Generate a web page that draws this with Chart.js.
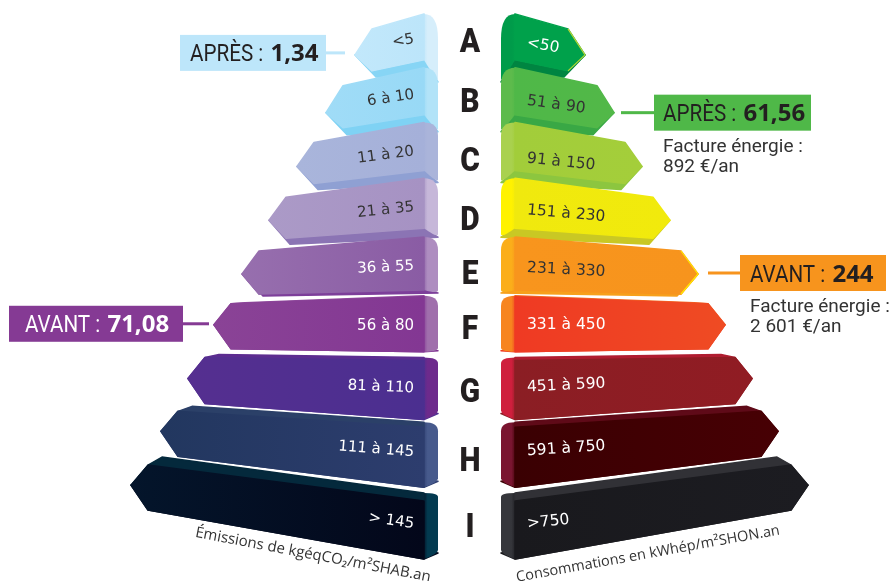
<!DOCTYPE html>
<html lang="fr">
<head>
<meta charset="utf-8">
<title>Étiquette énergie</title>
<style>
  html, body { margin: 0; padding: 0; background: #fff; }
  canvas { display: block; }
</style>
<script src="https://cdn.jsdelivr.net/npm/chart.js@4/dist/chart.umd.min.js"></script>
</head>
<body>
<canvas id="chart" width="891" height="581"></canvas>
<script>
// --- Data ---
const classes = ['A', 'B', 'C', 'D', 'E', 'F', 'G', 'H', 'I'];
const ghgLabels = ['<5', '6 à 10', '11 à 20', '21 à 35', '36 à 55', '56 à 80', '81 à 110', '111 à 145', '> 145'];
const energyLabels = ['<50', '51 à 90', '91 à 150', '151 à 230', '231 à 330', '331 à 450', '451 à 590', '591 à 750', '>750'];
// bar lengths
const ghgLength = [83, 112, 141, 169, 196, 224, 250, 277, 307];
const energyLength = [84, 113, 141, 169, 197, 224, 251, 277, 307];

// --- Colours: [outer end, inner end] of the front face ---
const ghgFront = [['#c2e8fb', '#bce5fa'], ['#a0dcf7', '#98d9f6'], ['#a9b5db', '#a5b0d9'], ['#ab9ac7', '#a692c3'], ['#976fae', '#8a5ca4'], ['#8a4396', '#833793'], ['#552f90', '#4b2f90'], ['#22375f', '#2d3d6e'], ['#04152b', '#03071a']];
const ghgSide = ['#d6eefb', '#b2e3f8', '#aab4da', '#c6b7d9', '#ae8dc0', '#a06fac', '#6d2a8c', '#475a8c', '#033a50'];
const ghgUnder = ['#87d5f5', '#7fd2f4', '#8fa0d3', '#8b74b4', '#7d3f9a', '#7f3391', '#4b2f90', '#2d3d6e', '#03071a'];
const ghgTop = ['#bce5fa', '#98d9f6', '#a5b0d9', '#a692c3', '#8a5ca4', '#8f4a9c', '#5c2d90', '#2b4068', '#04293c'];
const energyFront = [['#00a14b', '#00a14b'], ['#52b848', '#4fb848'], ['#a4ce3a', '#a2cd3a'], ['#f1ea0c', '#f0e90e'], ['#f7941d', '#f8951d'], ['#ef4b23', '#ef3a23'], ['#901c23', '#8b1e24'], ['#470004', '#3a0002'], ['#1c1c21', '#19191d']];
const energySide = ['#009b4a', '#5dbb4c', '#a9d14e', '#fff200', '#fbae1a', '#f7851f', '#cf1f3d', '#7a1530', '#35363b'];
const energyUnder = ['#008541', '#39a845', '#8cc63f', '#c9c824', '#f7a01c', '#ef3a23', '#8b1e24', '#3a0002', '#19191d'];
const energyTop = ['#00a14b', '#4fb848', '#a2cd3a', '#f0e90e', '#f8951d', '#f26a21', '#b01d30', '#5f0a18', '#313136'];
const energyEdge = ['#b6d433', null, null, null, '#ffe600', null, null, null, null];
const ghgInk = ['#333', '#333', '#333', '#333', '#fff', '#fff', '#fff', '#fff', '#fff'];
const energyInk = ['#fff', '#333', '#333', '#333', '#333', '#fff', '#fff', '#fff', '#fff'];

// --- Perspective of each block, in px above/below its arrow tip ---
const rowNudge = [0, 4, 4, 4, 4, 1, 1, 0, 0]; // the stacks are not quite evenly spaced
const topOuter = [-26, -27, -24, -23, -23, -21, -21, -20, -20];
const ridgeTop = [-41, -45, -44, -42, -37, -28, -18, -4, 16];
const ridgeBottom = [5, 2, 4, 8, 16, 27, 41, 56, 74];
const bottomOuter = [16, 15, 17, 18, 20, 24, 25, 25, 25];
const edgeTop = [-20, -31, -35, -31, -28, -23, -19, -4, 6];
const edgeBottom = [27, 19, 16, 17, 19, 26, 35, 50, 68];
const underLip = [6, 7, 6, 6, 2, 0, 0, 0, 0];
const topLip = [0, 0, 0, 0, 0, 1, 3, 5, 8];

// Text placement per row
const letterShift = [-15, -13, -7, -2, -2, 2, 11, 28, 40];
const ghgLabelShift = [-16, -18, -15, -13, -8, 1, 10, 21, 39];
const energyLabelShift = [-12, -12, -8, -10, -6, 0, 9, 20, 39];
const ghgAngle = [-10, -8.5, -7.5, -6, -3, 0, 2.5, 4.5, 8];
const energyAngle = [10, 8, 6, 5, 3, 0, -3, -4, -6];

// Callouts
const callouts = [
  { side: -1, row: 0, word: 'APRÈS : ', value: '1,34', fill: '#bde6fa', ink: '#231f20', gap: 10, line: 19, width: 146, pad: 10, dy: -2 },
  { side: -1, row: 5, word: 'AVANT : ', value: '71,08', fill: '#853a94', ink: '#fff', gap: 5, line: 26, width: 174, pad: 16, dy: -1 },
  { side: 1, row: 1, word: 'APRÈS : ', value: '61,56', fill: '#4fb848', ink: '#231f20', gap: 7, line: 33, width: 157, pad: 9, dy: 0, bill: '892 €/an' },
  { side: 1, row: 4, word: 'AVANT : ', value: '244', fill: '#f7941d', ink: '#231f20', gap: 10, line: 32, width: 146, pad: 10, dy: -1, bill: '2 601 €/an' },
];

const GHG_GAP = 32, ENERGY_GAP = 31;

// --- Drawing helpers ---
function poly(ctx, pts, color) {
  ctx.beginPath();
  pts.forEach((p, i) => (i ? ctx.lineTo(p[0], p[1]) : ctx.moveTo(p[0], p[1])));
  ctx.closePath();
  ctx.fillStyle = color;
  ctx.strokeStyle = color;
  ctx.lineWidth = 1.5;
  ctx.lineJoin = 'round';
  ctx.fill();
  ctx.stroke();
}

function drawBlock(ctx, bar, i, s, style) {
  const low = Math.min(bar.x, bar.base), high = Math.max(bar.x, bar.base);
  const tipX = s > 0 ? high : low;
  const innerX = s > 0 ? low : high;
  const y = bar.y + rowNudge[i];
  const headX = tipX - s * 17;
  const ridgeX = innerX + s * 14;
  const backY = y + ridgeTop[i] - topLip[i];

  // underside, runs out to the arrow tip
  poly(ctx, [[ridgeX, y + ridgeBottom[i]], [headX, y + bottomOuter[i]], [tipX, y],
    [headX - s * 4, y + bottomOuter[i] + underLip[i]], [innerX, y + edgeBottom[i]]], style.under[i]);
  // inner side, with rounded corners
  const sideGrad = ctx.createLinearGradient(ridgeX + s * 2, 0, innerX, 0);
  sideGrad.addColorStop(0, style.front[i][1]);
  sideGrad.addColorStop(0.35, style.side[i]);
  sideGrad.addColorStop(1, style.side[i]);
  ctx.beginPath();
  ctx.moveTo(ridgeX, backY);
  ctx.quadraticCurveTo(innerX, backY, innerX, Math.max(y + edgeTop[i] + 4, backY + 4));
  ctx.lineTo(innerX, y + edgeBottom[i] - 3);
  ctx.quadraticCurveTo(innerX, y + edgeBottom[i] + 1, ridgeX, y + ridgeBottom[i]);
  ctx.closePath();
  ctx.fillStyle = sideGrad;
  ctx.fill();
  // top face
  if (topLip[i]) {
    poly(ctx, [[tipX, y], [headX, y + topOuter[i]], [headX - s * 14, y + topOuter[i] - topLip[i]],
      [ridgeX, backY], [ridgeX, y + ridgeTop[i]]], style.top[i]);
  }
  // front face with arrow head
  const grad = ctx.createLinearGradient(tipX, 0, ridgeX, 0);
  grad.addColorStop(0, style.front[i][0]);
  grad.addColorStop(1, style.front[i][1]);
  poly(ctx, [[tipX, y], [headX, y + topOuter[i]], [ridgeX, y + ridgeTop[i]], [ridgeX, y + ridgeBottom[i]], [headX, y + bottomOuter[i]]], grad);
  if (style.edge && style.edge[i]) {
    ctx.beginPath();
    ctx.moveTo(headX, y + topOuter[i]);
    ctx.lineTo(tipX, y);
    ctx.lineTo(headX, y + bottomOuter[i]);
    ctx.strokeStyle = style.edge[i];
    ctx.lineWidth = 1.2;
    ctx.stroke();
  }

  // range label
  ctx.save();
  ctx.translate(s > 0 ? innerX + 26 : innerX - 24, y + style.shift[i]);
  ctx.rotate(style.angle[i] * Math.PI / 180);
  ctx.font = style.font;
  ctx.textAlign = s > 0 ? 'left' : 'right';
  ctx.textBaseline = 'middle';
  ctx.fillStyle = style.ink[i];
  ctx.fillText(style.labels[i], 0, 0);
  ctx.restore();
}

// narrowed text, none of the installed fonts is as condensed as the original
function narrowText(ctx, text, x, y, squeeze) {
  ctx.save();
  ctx.translate(x, y);
  ctx.scale(squeeze, 1);
  ctx.fillText(text, 0, 0);
  ctx.restore();
  return ctx.measureText(text).width * squeeze;
}

const blockStyles = {
  0: { s: -1, front: ghgFront, side: ghgSide, under: ghgUnder, top: ghgTop, ink: ghgInk, shift: ghgLabelShift, angle: ghgAngle, labels: ghgLabels, font: '15px "DejaVu Sans"' },
  1: { s: 1, front: energyFront, side: energySide, under: energyUnder, top: energyTop, edge: energyEdge, ink: energyInk, shift: energyLabelShift, angle: energyAngle, labels: energyLabels, font: '15.5px "DejaVu Sans"' },
};

// Replace the plain rectangles by the 3D arrows, still placed by the bar elements
const arrowBars = {
  id: 'arrowBars',
  beforeDatasetDraw(chart, args) {
    const style = blockStyles[args.index];
    chart.getDatasetMeta(args.index).data.forEach((bar, i) => {
      drawBlock(chart.ctx, bar.getProps(['x', 'y', 'base'], true), i, style.s, style);
    });
    return false;
  },
  afterDraw(chart) {
    const ctx = chart.ctx;
    const yScale = chart.scales.y, xScale = chart.scales.x;

    // class letters in the middle
    ctx.fillStyle = '#231f20';
    ctx.textAlign = 'center';
    ctx.textBaseline = 'alphabetic';
    ctx.font = '900 34px Roboto';
    classes.forEach((c, i) => {
      ctx.save();
      ctx.translate(xScale.getPixelForValue(0), yScale.getPixelForValue(i) + rowNudge[i] + letterShift[i] + 12);
      ctx.scale(0.88, 1);
      ctx.fillText(c, 0, 0);
      ctx.restore();
    });

    // callouts
    callouts.forEach(c => {
      const meta = chart.getDatasetMeta(c.side < 0 ? 0 : 1).data[c.row];
      const tip = c.side < 0 ? Math.min(meta.x, meta.base) : Math.max(meta.x, meta.base);
      const y = meta.y + rowNudge[c.row] + c.dy;
      const lineStart = tip + c.side * c.gap;
      const boxNear = lineStart + c.side * c.line;
      const boxX = c.side < 0 ? boxNear - c.width : boxNear;
      ctx.fillStyle = c.fill;
      ctx.fillRect(Math.min(lineStart, boxNear), y - 1.5, c.line, 3);
      ctx.fillRect(boxX, y - 18, c.width, 36);
      ctx.textAlign = 'left';
      ctx.textBaseline = 'alphabetic';
      ctx.fillStyle = c.ink;
      ctx.font = '24px Roboto';
      const w = narrowText(ctx, c.word, boxX + c.pad, y + 8.5, 0.86);
      ctx.font = 'bold 24px "Open Sans"';
      ctx.fillText(c.value, boxX + c.pad + w + 2, y + 8.5);
      if (c.bill) {
        ctx.fillStyle = '#333';
        ctx.font = '19px Roboto';
        ctx.fillText('Facture énergie :', boxX + c.pad, y + 39);
        ctx.fillText(c.bill, boxX + c.pad, y + 59);
      }
    });

    // unit captions under the two stacks
    ctx.fillStyle = '#333';
    ctx.textAlign = 'center';
    ctx.textBaseline = 'middle';
    ctx.save();
    ctx.font = '15px "Open Sans"';
    ctx.translate(313, 555);
    ctx.rotate(10.8 * Math.PI / 180);
    ctx.fillText('Émissions de kgéqCO₂/m²SHAB.an', 0, 0);
    ctx.restore();
    ctx.save();
    ctx.font = '14.5px "Open Sans"';
    ctx.translate(648, 554);
    ctx.rotate(-10.2 * Math.PI / 180);
    ctx.fillText('Consommations en kWhép/m²SHON.an', 0, 0);
    ctx.restore();
  },
};

// --- Chart ---
new Chart(document.getElementById('chart'), {
  type: 'bar',
  data: {
    labels: classes,
    datasets: [
      {
        label: 'Émissions',
        data: ghgLength.map(v => [-GHG_GAP, -GHG_GAP - v]),
        backgroundColor: ghgFront.map(c => c[1]),
        grouped: false,
        categoryPercentage: 1,
        barPercentage: 1,
      },
      {
        label: 'Consommations',
        data: energyLength.map(v => [ENERGY_GAP, ENERGY_GAP + v]),
        backgroundColor: energyFront.map(c => c[1]),
        grouped: false,
        categoryPercentage: 1,
        barPercentage: 1,
      },
    ],
  },
  options: {
    indexAxis: 'y',
    responsive: false,
    animation: false,
    layout: { padding: { top: 28, bottom: 69, left: 0, right: 0 } },
    plugins: { legend: { display: false }, tooltip: { enabled: false }, title: { display: false } },
    scales: {
      x: { type: 'linear', min: -470, max: 421, display: false },
      y: { type: 'category', display: false, offset: true },
    },
  },
  plugins: [arrowBars],
});
</script>
</body>
</html>
